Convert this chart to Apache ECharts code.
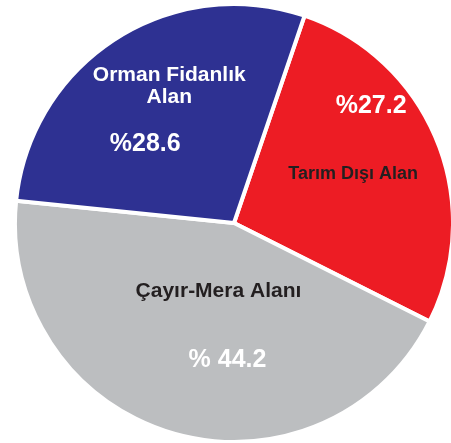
<!DOCTYPE html>
<html>
<head>
<meta charset="utf-8">
<script src="https://cdn.jsdelivr.net/npm/echarts@6/dist/echarts.min.js"></script>
<style>
  html, body { margin: 0; padding: 0; background: #fff; }
  #chart { width: 451px; height: 443px; }
</style>
</head>
<body>
<div id="chart"></div>
<script>
// data (clockwise from the top)
var names = ['Tarım Dışı Alan', 'Çayır-Mera Alanı', 'Orman Fidanlık\nAlan']
var values = [27.2, 44.2, 28.6]
var valueLabels = ['%27.2', '% 44.2', '%28.6']

var colors = ['#ed1c24', '#bcbec0', '#2e3192']
var nameColors = ['#231f20', '#231f20', '#ffffff']
var nameSizes = [18, 21, 21]
// label nudges from the default inside position
var nameShift = [[15, -6], [16, -40], [-4, -42]]
var valueShift = [[33, -74], [25, 29], [-28, 16]]

var chart = echarts.init(document.getElementById('chart'))

var font = '"Liberation Sans", Arial, sans-serif'
var center = [234, 223]
var radius = 219

chart.setOption({
  animation: false,
  series: [
    {
      type: 'pie',
      center: center,
      radius: radius,
      startAngle: 71.2,
      clockwise: true,
      itemStyle: { borderColor: '#fff', borderWidth: 4 },
      emphasis: { disabled: true },
      label: { position: 'inside', fontFamily: font, fontWeight: 'bold', lineHeight: 22 },
      labelLine: { show: false },
      labelLayout: function (p) {
        return { dx: nameShift[p.dataIndex][0], dy: nameShift[p.dataIndex][1] }
      },
      data: names.map(function (n, i) {
        return {
          name: n,
          value: values[i],
          itemStyle: { color: colors[i] },
          label: { formatter: n, color: nameColors[i], fontSize: nameSizes[i] }
        }
      })
    },
    {
      // second pass only for the percentage labels
      type: 'pie',
      center: center,
      radius: radius,
      startAngle: 71.2,
      clockwise: true,
      silent: true,
      itemStyle: { color: 'rgba(0,0,0,0)', borderWidth: 0 },
      emphasis: { disabled: true },
      label: { position: 'inside', fontFamily: font, fontWeight: 'bold', fontSize: 25, color: '#fff' },
      labelLine: { show: false },
      labelLayout: function (p) {
        return { dx: valueShift[p.dataIndex][0], dy: valueShift[p.dataIndex][1] }
      },
      data: values.map(function (v, i) {
        return { name: names[i], value: v, label: { formatter: valueLabels[i] } }
      })
    }
  ]
})
</script>
</body>
</html>
